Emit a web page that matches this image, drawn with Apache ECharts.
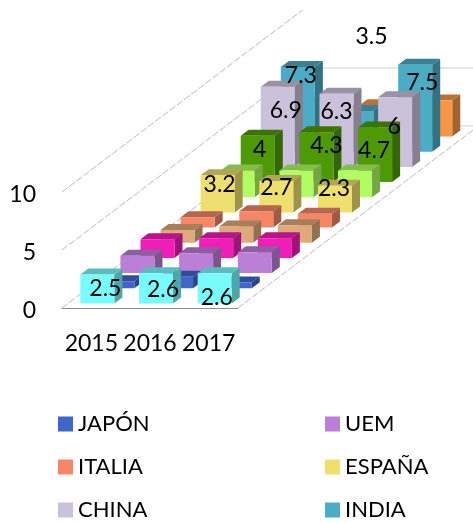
<!DOCTYPE html>
<html>
<head>
<meta charset="utf-8">
<style>
html, body { margin: 0; padding: 0; background: #fff; }
#chart { width: 473px; height: 523px; }
</style>
<script src="https://cdn.jsdelivr.net/npm/echarts@6/dist/echarts.min.js"></script>
</head>
<body>
<div id="chart"></div>
<script>
// 数据
var years = ['2015', '2016', '2017'];
var yTicks = [0, 5, 10];

// front row first, back row last
var rowNames = ['CIAN', 'JAPÓN', 'UEM', 'MAGENTA', 'TOSTADO', 'ITALIA', 'ESPAÑA', 'LIMA', 'VERDE', 'CHINA', 'INDIA', 'NARANJA'];
var cian = [2.5, 2.6, 2.6];
var japon = [0.6, 1.0, 0.5];
var uem = [1.5, 1.7, 1.8];
var magenta = [1.6, 1.7, 1.7];
var tostado = [1.1, 1.4, 1.5];
var italia = [0.9, 1.4, 1.2];
var espana = [3.2, 2.7, 2.3];
var lima = [2.3, 2.3, 2.3];
var verde = [4, 4.3, 4.7];
var china = [6.9, 6.3, 6];
var india = [7.3, 3.5, 7.5];
var naranja = [2.8, 2.7, 3.1];
var rowValues = [cian, japon, uem, magenta, tostado, italia, espana, lima, verde, china, india, naranja];

var rowColors = ['#78FBFB', '#4066CC', '#BC7FD8', '#F01DB8', '#E0A97C', '#F58767', '#EFDF6E', '#B0FC62', '#4E9A06', '#CCC1DA', '#4BACC6', '#F79646'];

// 标签偏移 (label shift from the middle of the bar front, px)
var labelShift = {
    0: [[8, 0], [7, 1], [2, 9]],
    6: [[2, -9], [0, -9], [-1, -10]],
    8: [[2, -9], [10, -12], [-1, -4]],
    9: [[8, -16], [0, -19], [-1, -6]],
    10: [[3, -34], [15, -95], [7, -26]]
};

// oblique projection
var stepX = 20.05;
var stepY = -15.17;
var barDepthX = 8;
var barDepthY = -6;
var barRatio = 0.58;
var rowCount = rowNames.length;
var font = 'Lato, "Open Sans", sans-serif';

function shade(hex, k) {
    var n = parseInt(hex.slice(1), 16);
    var r = Math.round((n >> 16 & 255) * k);
    var g = Math.round((n >> 8 & 255) * k);
    var b = Math.round((n & 255) * k);
    return 'rgb(' + r + ',' + g + ',' + b + ')';
}

function poly(points, color) {
    return { type: 'polygon', shape: { points: points }, style: { fill: color } };
}

function barAt(row, cat, val, api) {
    var base = api.coord([cat, 0]);
    var top = api.coord([cat, val]);
    var w = api.size([1, 0])[0] * barRatio;
    var dx = (row + 0.5) * stepX - barDepthX / 2;
    var dy = (row + 0.5) * stepY - barDepthY / 2;
    return {
        x0: base[0] - w / 2 + dx,
        x1: base[0] + w / 2 + dx,
        y0: base[1] + dy,
        y1: top[1] + dy
    };
}

function makeBarRender(row) {
    return function (params, api) {
        var b = barAt(row, api.value(0), api.value(1), api);
        var color = rowColors[row];
        var topColor = shade(color, 0.75);
        var sideColor = shade(color, 0.66);
        return {
            type: 'group',
            children: [
                poly([[b.x1, b.y0], [b.x1 + barDepthX, b.y0 + barDepthY], [b.x1 + barDepthX, b.y1 + barDepthY], [b.x1, b.y1]], sideColor),
                poly([[b.x0, b.y1], [b.x0 + barDepthX, b.y1 + barDepthY], [b.x1 + barDepthX, b.y1 + barDepthY], [b.x1, b.y1]], topColor),
                poly([[b.x0, b.y0], [b.x1, b.y0], [b.x1, b.y1], [b.x0, b.y1]], color)
            ]
        };
    };
}

// 网格线
function renderWall(params, api) {
    var v = api.value(0);
    var sys = params.coordSys;
    var y = api.coord([0, v])[1];
    var depthX = stepX * rowCount;
    var depthY = stepY * rowCount;
    var lineStyle = { stroke: '#bbbbbb', lineWidth: 1, lineDash: [7, 2] };
    var children = [{
        type: 'line',
        shape: { x1: sys.x, y1: y, x2: sys.x + depthX, y2: y + depthY },
        style: lineStyle
    }];
    if (v < yTicks[yTicks.length - 1]) {
        children.push({
            type: 'line',
            shape: { x1: sys.x + depthX, y1: y + depthY, x2: 480, y2: y + depthY },
            style: { stroke: '#d0d0d0', lineWidth: 1 }
        });
    }
    if (v === 0) {
        children.push({
            type: 'line',
            shape: { x1: sys.x + sys.width, y1: y, x2: sys.x + sys.width + depthX, y2: y + depthY },
            style: lineStyle
        });
    }
    return { type: 'group', children: children };
}

function renderLabel(params, api) {
    var row = api.value(2);
    var cat = api.value(0);
    var val = api.value(1);
    var b = barAt(row, cat, val, api);
    var shift = labelShift[row][cat];
    return {
        type: 'text',
        style: {
            x: (b.x0 + b.x1) / 2 + shift[0],
            y: (b.y0 + b.y1) / 2 + shift[1],
            text: String(val),
            fill: '#000',
            font: '23px ' + font,
            align: 'center',
            verticalAlign: 'middle'
        }
    };
}

var series = [{
    type: 'custom',
    name: 'rejilla',
    z: 1,
    silent: true,
    renderItem: renderWall,
    data: yTicks.map(function (t) { return [t]; }),
    encode: { y: 0 }
}];

rowNames.forEach(function (name, row) {
    series.push({
        type: 'custom',
        name: name,
        z: 2 + rowCount - row,
        itemStyle: { color: rowColors[row] },
        renderItem: makeBarRender(row),
        data: rowValues[row].map(function (v, i) { return [i, v]; }),
        encode: { x: 0, y: 1 }
    });
});

var labelData = [];
Object.keys(labelShift).forEach(function (key) {
    var row = Number(key);
    rowValues[row].forEach(function (v, i) { labelData.push([i, v, row]); });
});
series.push({
    type: 'custom',
    name: 'etiquetas',
    z: 50,
    silent: true,
    renderItem: renderLabel,
    data: labelData,
    encode: { x: 0, y: 1 }
});

var legendText = { color: '#000', fontFamily: font, fontSize: 22, lineHeight: 15 };

var option = {
    animation: false,
    backgroundColor: '#fff',
    grid: { left: 62, right: 235, top: 192, bottom: 215 },
    legend: [
        {
            left: 58, top: 413, height: 200, orient: 'vertical', icon: 'rect', selectedMode: false,
            padding: 0, itemWidth: 15, itemHeight: 15, itemGap: 21,
            textStyle: legendText,
            data: ['JAPÓN', 'ITALIA', 'CHINA']
        },
        {
            left: 325, top: 413, height: 200, orient: 'vertical', icon: 'rect', selectedMode: false,
            padding: 0, itemWidth: 15, itemHeight: 15, itemGap: 21,
            textStyle: legendText,
            data: ['UEM', 'ESPAÑA', 'INDIA']
        }
    ],
    xAxis: {
        type: 'category',
        data: years,
        axisTick: { show: false },
        axisLine: { show: true, lineStyle: { color: '#8c8c8c', width: 1 } },
        axisLabel: { interval: 0, color: '#000', fontFamily: font, fontSize: 23, margin: 24 }
    },
    yAxis: {
        type: 'value',
        min: 0,
        max: 10,
        interval: 5,
        axisLine: { show: false },
        axisTick: { show: false },
        splitLine: { show: false },
        axisLabel: { color: '#000', fontFamily: font, fontSize: 23, margin: 26, verticalAlign: 'top', lineHeight: 5 }
    },
    series: series
};

var myChart = echarts.init(document.getElementById('chart'));
myChart.setOption(option);
</script>
</body>
</html>
